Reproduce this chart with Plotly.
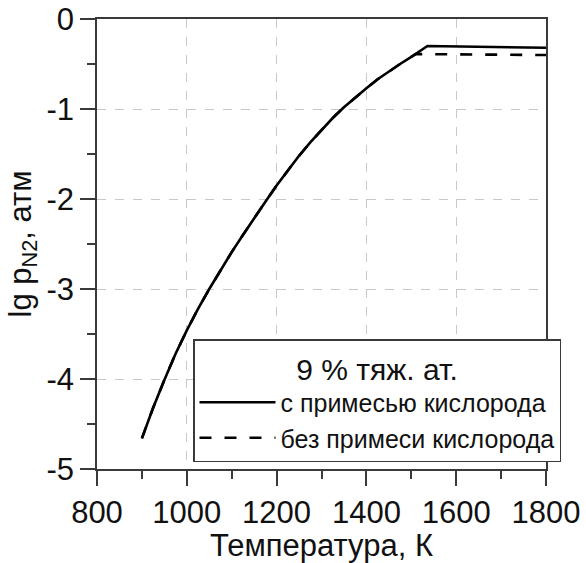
import plotly.graph_objects as go

# Temperature, K and lg p(N2), atm
t_with = [900, 925, 950, 975, 1000, 1025, 1050, 1075, 1100, 1125, 1150, 1175, 1200, 1225, 1250,
          1275, 1300, 1325, 1350, 1375, 1400, 1425, 1450, 1475, 1500, 1525, 1536, 1800]
lg_with = [-4.66, -4.32, -4.01, -3.72, -3.46, -3.22, -3.00, -2.79, -2.59, -2.40, -2.21, -2.03, -1.85,
           -1.68, -1.52, -1.37, -1.23, -1.10, -0.98, -0.87, -0.77, -0.67, -0.58, -0.50, -0.42, -0.34,
           -0.30, -0.32]

t_without = [900, 925, 950, 975, 1000, 1025, 1050, 1075, 1100, 1125, 1150, 1175, 1200, 1225, 1250,
             1275, 1300, 1325, 1350, 1375, 1400, 1425, 1450, 1475, 1500, 1510, 1800]
lg_without = [-4.66, -4.32, -4.01, -3.72, -3.46, -3.22, -3.00, -2.79, -2.59, -2.40, -2.21, -2.03, -1.85,
              -1.68, -1.52, -1.37, -1.23, -1.10, -0.98, -0.87, -0.77, -0.67, -0.58, -0.50, -0.42, -0.39,
              -0.40]

x_ticks = [800, 1000, 1200, 1400, 1600, 1800]
y_ticks = [0, -1, -2, -3, -4, -5]

FONT = "Liberation Sans, Arial, sans-serif"
AX = "#3a3a3a"
TXT = "#111"
W, H = 586, 563

fig = go.Figure()
fig.add_trace(go.Scatter(x=t_with, y=lg_with, mode="lines", name="с примесью кислорода",
                         line=dict(color="black", width=2.6)))
fig.add_trace(go.Scatter(x=t_without, y=lg_without, mode="lines", name="без примеси кислорода",
                         line=dict(color="black", width=2.6, dash="12px,13px")))

axis_common = dict(
    showline=True, linecolor=AX, linewidth=1.5, mirror=True,
    ticks="outside", ticklen=15, tickwidth=1.5, tickcolor=AX,
    showgrid=True, gridcolor="#c8c8c8", gridwidth=1, griddash="dash",
    zeroline=False, automargin=False,
    tickfont=dict(size=31, color=TXT, family=FONT),
)

fig.update_xaxes(range=[800, 1800], tickvals=x_ticks, ticktext=[str(v) for v in x_ticks],
                 domain=[97 / W, 546 / W],
                 minor=dict(dtick=100, ticklen=8, tickwidth=1.5, tickcolor=AX, ticks="outside", showgrid=False),
                 title=dict(text="Температура, К", font=dict(size=31, color=TXT, family=FONT), standoff=4),
                 **axis_common)
fig.update_yaxes(range=[-5, 0], tickvals=y_ticks, ticktext=[str(v) for v in y_ticks],
                 domain=[(H - 469) / H, (H - 19) / H],
                 minor=dict(dtick=0.5, ticklen=8, tickwidth=1.5, tickcolor=AX, ticks="outside", showgrid=False),
                 title=dict(text="lg p<sub>N2</sub>, атм", font=dict(size=31, color=TXT, family=FONT), standoff=6),
                 **axis_common)

fig.update_layout(
    width=W, height=H,
    margin=dict(l=0, r=0, t=0, b=0, pad=0),
    paper_bgcolor="white", plot_bgcolor="white",
    font=dict(family=FONT, color=TXT),
    showlegend=True,
    legend=dict(
        x=193 / W, y=(H - 339) / H, xanchor="left", yanchor="top",
        bgcolor="white", bordercolor=AX, borderwidth=1.5,
        font=dict(size=25, family=FONT, color=TXT),
        title=dict(text="9 % тяж. ат.", side="top center", font=dict(size=30, family=FONT, color=TXT)),
        itemwidth=76, tracegroupgap=0,
    ),
)

fig.write_html("out.html")
